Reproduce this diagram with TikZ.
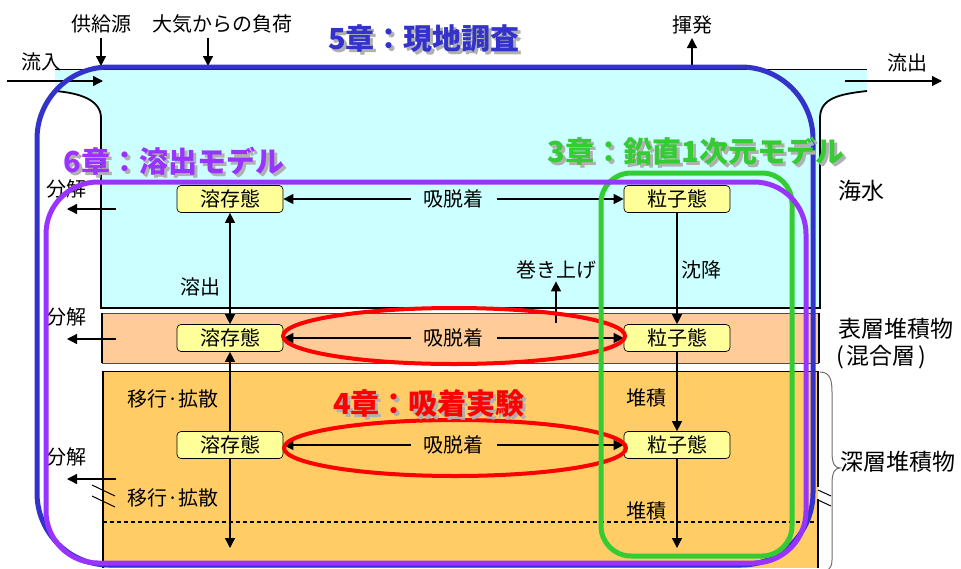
\documentclass[tikz,border=0pt]{standalone}
\usepackage{fontspec}
\setmainfont{Noto Sans CJK JP}
\usetikzlibrary{arrows.meta}
\definecolor{seac}{HTML}{CCFFFF}
\definecolor{surfc}{HTML}{FFCC99}
\definecolor{deepc}{HTML}{FFCC66}
\definecolor{boxc}{HTML}{FFFF99}
\definecolor{bluec}{HTML}{3333CC}
\definecolor{purc}{HTML}{9933FF}
\definecolor{grnc}{HTML}{33CC33}
\definecolor{redc}{HTML}{FF0000}
\definecolor{shadc}{HTML}{B0B0B0}
\definecolor{bracec}{HTML}{707070}
\newcommand{\shadowtext}[2]{\makebox[0pt][l]{\hspace{3pt}\raisebox{-3pt}{\textcolor{shadc}{#2}}}\textcolor{#1}{#2}}
\begin{document}
\begin{tikzpicture}[x=1pt,y=-1pt,
  lbl/.style={font=\fontsize{20}{22}\selectfont, inner sep=0pt},
  rlbl/.style={font=\fontsize{23}{25}\selectfont, inner sep=0pt, anchor=west},
  statebox/.style={draw=black, line width=0.7pt, fill=boxc, rounded corners=4pt, minimum width=106pt, minimum height=27pt, inner sep=0pt, font=\fontsize{20}{22}\selectfont},
  arr/.style={line width=1.3pt, -{Triangle[length=10pt,width=10pt]}},
  darr/.style={line width=1.3pt, {Triangle[length=10pt,width=10pt]}-{Triangle[length=10pt,width=10pt]}},
  midlbl/.style={font=\fontsize{20}{22}\selectfont, inner xsep=13pt, inner ysep=2pt},
  ttl/.style={font=\bfseries\fontsize{29}{31}\selectfont, inner sep=0pt},
  chap/.style={line width=5pt},
  wall/.style={line width=1.8pt, black},
]
\useasboundingbox (0,0) rectangle (961,568);
\fill[white] (0,0) rectangle (961,568);

% ---- sea water ----
\fill[seac] (55,69) -- (867,69) -- (867,91) .. controls (840,94) and (820,98) .. (820,118) -- (820,308) -- (101,308) -- (101,118) .. controls (101,100) and (80,93) .. (55,91) -- cycle;
\draw[line width=1pt] (55,69) -- (867,69);
\draw[wall] (55,91) .. controls (80,93) and (101,100) .. (101,118) -- (101,308) -- (820,308) -- (820,118) .. controls (820,98) and (840,94) .. (867,91);

% ---- surface sediment ----
\fill[surfc] (102,313) rectangle (819,363);
\draw[line width=0.6pt, black!70] (102,313) -- (819,313) (102,363) -- (819,363);
\draw[wall] (102,313) -- (102,363) (819,313) -- (819,363);

% ---- deep sediment ----
\fill[deepc] (103,371) rectangle (818,568);
\draw[line width=0.6pt] (103,371) -- (818,371);
\draw[wall] (103,371) -- (103,568);
\draw[wall] (818,371) -- (818,487) (818,499) -- (818,568);
\draw[line width=1pt] (92,485) -- (115,496) (92,496) -- (115,507);
\draw[line width=1pt] (818,490) -- (831,496) (818,500) -- (831,506);
\draw[line width=1.2pt, dash pattern=on 4pt off 3pt] (103,522) -- (818,522);

% ---- brace ----
\draw[bracec, line width=1pt] (820,372) .. controls (830,372) and (832,380) .. (832,392) -- (832,452) .. controls (832,464) and (835,468) .. (840,468) .. controls (835,468) and (832,472) .. (832,484) -- (832,560) .. controls (832,566) and (830,568) .. (828,570);

% ---- top labels ----
\node[lbl] (kyo) at (101,24) {供給源};
\node[lbl] (tai) at (222,24) {大気からの負荷};
\node[lbl] (ryunyu) at (41,62) {流入};
\node[lbl] (kiha) at (692,25) {揮発};
\node[lbl] (ryush) at (907,63) {流出};
\coordinate (kyoA) at (101,38); \coordinate (kyoB) at (101,66);
\coordinate (taiA) at (208,38); \coordinate (taiB) at (208,66);
\coordinate (inA) at (7,81); \coordinate (inB) at (103,81);
\coordinate (kiA) at (692,66); \coordinate (kiB) at (692,38);
\coordinate (outA) at (845,81); \coordinate (outB) at (942,81);
\draw[arr] (kyoA) -- (kyoB);
\draw[arr] (taiA) -- (taiB);
\draw[arr] (inA) -- (inB);
\draw[arr] (kiA) -- (kiB);
\draw[arr] (outA) -- (outB);

% ---- right labels ----
\node[rlbl] (kaisui) at (838,191) {海水};
\node[rlbl] (hyoso) at (838,329) {表層堆積物};
\node[rlbl] (kongo) at (836,357) {(\hspace{3pt}混合層\hspace{3pt})};
\node[rlbl] (shinso) at (840,462) {深層堆積物};

% ---- decomposition ----
\node[lbl] (bk1) at (66,189) {分解};
\node[lbl] (bk2) at (66,317) {分解};
\node[lbl] (bk3) at (66,457) {分解};
\coordinate (bs1) at (116,209); \coordinate (bt1) at (67,209);
\coordinate (bs2) at (116,339); \coordinate (bt2) at (67,339);
\coordinate (bs3) at (116,479); \coordinate (bt3) at (67,479);
\draw[arr] (bs1) -- (bt1);
\draw[arr] (bs2) -- (bt2);
\draw[arr] (bs3) -- (bt3);

% ---- state boxes ----
\node[statebox] (d1) at (230,199) {溶存態};
\node[statebox] (d2) at (230,338) {溶存態};
\node[statebox] (d3) at (230,445) {溶存態};
\node[statebox] (p1) at (677,199) {粒子態};
\node[statebox] (p2) at (677,338) {粒子態};
\node[statebox] (p3) at (677,445) {粒子態};

\draw[darr] (d1) -- node[midlbl, fill=seac] {吸脱着} (p1);
\draw[darr] (d2) -- node[midlbl, fill=surfc] {吸脱着} (p2);
\draw[darr] (d3) -- node[midlbl, fill=deepc] {吸脱着} (p3);

\coordinate (d3end) at (230,548);
\coordinate (p3end) at (677,548);
\draw[darr] (d1) -- (d2);
\draw[arr] (d3) -- (d2);
\draw[arr] (d3) -- (d3end);
\draw[arr] (p1) -- (p2);
\draw[arr] (p2) -- (p3);
\draw[arr] (p3) -- (p3end);

\node[lbl] (yoshutsu) at (200,287) {溶出};
\node[lbl] (ikou1) at (173,399) {移行·拡散};
\node[lbl] (ikou2) at (173,498) {移行·拡散};
\node[lbl] (chinko) at (701,270) {沈降};
\node[lbl] (taiseki1) at (646,398) {堆積};
\node[lbl] (taiseki2) at (646,511) {堆積};
\node[lbl] (maki) at (556,270) {巻き上げ};
\coordinate (makiA) at (556,323);
\draw[arr, shorten >=2pt] (makiA) -- (maki.south);

% ---- chapter outlines ----
\draw[redc, line width=4pt] (454,336) ellipse [x radius=171, y radius=28];
\draw[redc, line width=4pt] (455,448) ellipse [x radius=171, y radius=28];
\draw[bluec, chap, rounded corners=72pt] (37,67) rectangle (813,565);
\draw[grnc, chap, rounded corners=30pt] (601,173) rectangle (792,556);
\draw[purc, chap, rounded corners=52pt] (46,182) rectangle (806,563);

% ---- titles ----
\node[ttl] (t5) at (424,40) {\shadowtext{bluec}{5章：現地調査}};
\node[ttl] (t6) at (174,163) {\shadowtext{purc}{6章：溶出モデル}};
\node[ttl] (t3) at (696,153) {\shadowtext{grnc}{3章：鉛直1次元モデル}};
\node[ttl] (t4) at (429,405) {\shadowtext{redc}{4章：吸着実験}};
\end{tikzpicture}
\end{document}
